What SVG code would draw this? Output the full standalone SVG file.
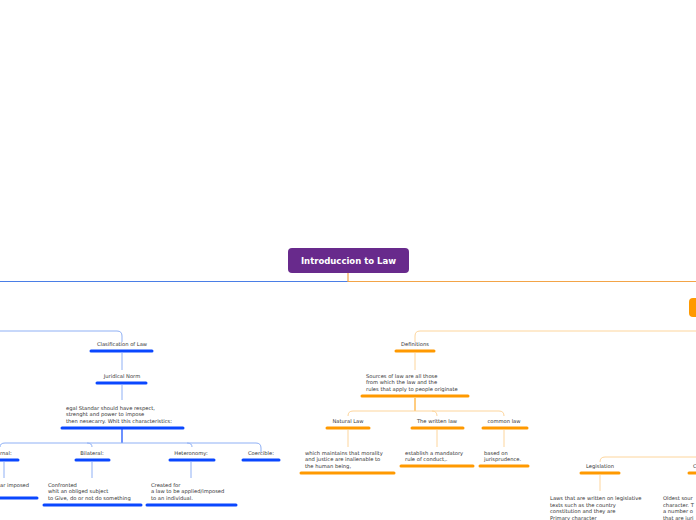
<svg xmlns="http://www.w3.org/2000/svg" width="696" height="520" viewBox="0 0 696 520">
<style>
text{font-family:"DejaVu Sans",Verdana,sans-serif;font-size:5.2px;fill:#333}
.c{text-anchor:middle}
.bu{stroke:#0a47ff;stroke-width:3;stroke-linecap:round}
.ou{stroke:#ff9900;stroke-width:3;stroke-linecap:round}
.bl{fill:none;stroke:#8fb0f5;stroke-width:1}
.ol{fill:none;stroke:#fdd59c;stroke-width:1}
</style>
<rect width="696" height="520" fill="#fff"/>
<g id="connectors">
<path d="M0 281.5H348" fill="none" stroke="#4a7ee6" stroke-width="1.2"/>
<path d="M348 273V281.5H696" fill="none" stroke="#f3a448" stroke-width="1.2"/>
<path class="bl" d="M0 331H117Q122 331 122 336V342"/>
<path class="bl" d="M122 353V370M122 385V400"/>
<path d="M122 429V443" stroke="#0a47ff" stroke-width="1.2"/>
<path class="bl" d="M0 447Q0 443 5 443H256Q261 443 261 448V452M87 443Q92 443 92 447M187 443Q192 443 192 447"/>
<path class="bl" d="M4 462V478M92 462V478M191 462V478"/>
<path class="ol" d="M696 331H420Q415 331 415 336V342"/>
<path class="ol" d="M415 353V370"/>
<path d="M415 398V411" stroke="#ff9900" stroke-width="1"/>
<path class="ol" d="M348 416Q348 411 353 411H499Q504 411 504 416M432 411Q437 411 437 416"/>
<path class="ol" d="M348 430V447M437 430V447M504 430V447"/>
<path class="ol" d="M696 457H605Q600 457 600 462M600 475V491"/>
</g>
<g id="title">
<rect x="288" y="248" width="121" height="25" rx="4" fill="#682a8c"/>
<text x="348.5" y="263.5" class="c" style="font-size:8.5px;font-weight:bold;fill:#fff">Introduccion to Law</text>
</g>
<g id="orangeMain"><rect x="689" y="298" width="14" height="19" rx="4" fill="#ff9900"/></g>
<g id="clasif"><text x="122" y="346" class="c">Clasification of Law</text><line class="bu" x1="91" y1="351" x2="152" y2="351"/></g>
<g id="juridical"><text x="122" y="378" class="c">Juridical Norm</text><line class="bu" x1="97" y1="383" x2="146" y2="383"/></g>
<g id="legal"><text x="66" y="410">egal Standar should have respect,</text><text x="66" y="416">strenght and power to impose</text><text x="66" y="423">then nesecarry. Whit this characteristics:</text><line class="bu" x1="62" y1="428" x2="183" y2="428"/></g>
<g id="internal"><text x="0" y="455">rnal:</text><line class="bu" x1="0" y1="460" x2="18" y2="460"/></g>
<g id="bilateral"><text x="92" y="455" class="c">Bilateral:</text><line class="bu" x1="76" y1="460" x2="109" y2="460"/></g>
<g id="heteronomy"><text x="191" y="455" class="c">Heteronomy:</text><line class="bu" x1="170" y1="460" x2="214" y2="460"/></g>
<g id="coercible"><text x="261" y="455" class="c">Coercible:</text><line class="bu" x1="243" y1="460" x2="279" y2="460"/></g>
<g id="internalText"><text x="0" y="487">ar imposed</text><line class="bu" x1="0" y1="498" x2="37" y2="498"/></g>
<g id="bilateralText"><text x="48" y="487">Confronted</text><text x="48" y="493">whit an obliged subject</text><text x="48" y="500">to Give, do or not do something</text><line class="bu" x1="44" y1="505" x2="141" y2="505"/></g>
<g id="heteronomyText"><text x="151" y="487">Created for</text><text x="151" y="493">a law to be applied/imposed</text><text x="151" y="500">to an individual.</text><line class="bu" x1="147" y1="505" x2="236" y2="505"/></g>
<g id="definitions"><text x="415" y="346" class="c">Definitions</text><line class="ou" x1="396" y1="351" x2="434" y2="351"/></g>
<g id="sources"><text x="366" y="378">Sources of law are all those</text><text x="366" y="384"> from which the law and the</text><text x="366" y="391">rules that apply to people originate</text><line class="ou" x1="362" y1="396" x2="468" y2="396"/></g>
<g id="natural"><text x="348" y="423" class="c">Natural Law</text><line class="ou" x1="327" y1="428" x2="369" y2="428"/></g>
<g id="written"><text x="437" y="423" class="c">The written law</text><line class="ou" x1="412" y1="428" x2="463" y2="428"/></g>
<g id="common"><text x="504" y="423" class="c">common law</text><line class="ou" x1="483" y1="428" x2="527" y2="428"/></g>
<g id="naturalText"><text x="305" y="455">which maintains that morality</text><text x="305" y="461">and justice are inalienable to</text><text x="305" y="468">the human being,</text><line class="ou" x1="301" y1="473" x2="394" y2="473"/></g>
<g id="writtenText"><text x="405" y="455">establish a mandatory</text><text x="405" y="461">rule of conduct,.</text><line class="ou" x1="401" y1="466" x2="473" y2="466"/></g>
<g id="commonText"><text x="484" y="455">based on</text><text x="484" y="461">jurisprudence.</text><line class="ou" x1="480" y1="466" x2="528" y2="466"/></g>
<g id="legislation"><text x="600" y="468" class="c">Legislation</text><line class="ou" x1="581" y1="473" x2="619" y2="473"/></g>
<g id="custom"><text x="693" y="468">C</text><line class="ou" x1="689" y1="473" x2="698" y2="473"/></g>
<g id="legislationText"><text x="550" y="500">Laws that are written on legislative</text><text x="550" y="507"> texts such as the country</text><text x="550" y="513">constitution and they are</text><text x="550" y="520">Primary character</text></g>
<g id="customText"><text x="663" y="500">Oldest sour</text><text x="663" y="507">character. T</text><text x="663" y="513">a number o</text><text x="663" y="520">that are juri</text></g>
</svg>
